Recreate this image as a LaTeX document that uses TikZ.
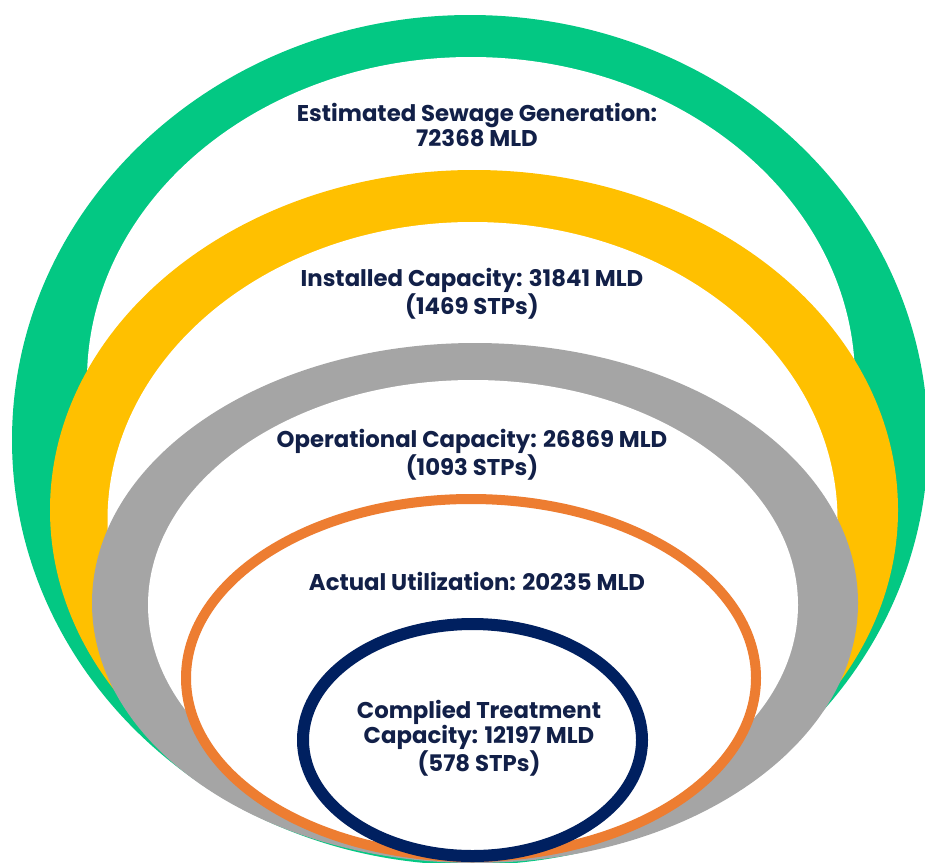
\documentclass[tikz,border=0pt]{standalone}
\usepackage{fontspec}
\setmainfont{Poppins}
\definecolor{sewgreen}{RGB}{3,200,131}
\definecolor{capyellow}{RGB}{255,192,0}
\definecolor{opgray}{RGB}{165,165,165}
\definecolor{useorange}{RGB}{237,125,49}
\definecolor{compnavy}{RGB}{0,32,96}
\definecolor{labelnavy}{RGB}{18,32,72}
\begin{document}
\begin{tikzpicture}[x=1pt,y=-1pt,
  hole/.style={fill=white},
  outline/.style={draw=#1,fill=white},
  caption/.style={font=\fontsize{22.8}{25}\selectfont\bfseries,text=labelnavy,
    align=center,inner sep=0pt}]
\useasboundingbox (0,0) rectangle (925,862);
\clip (0,0) rectangle (925,862);
% sewage generated
\fill[sewgreen] (470,440) ellipse [x radius=458, y radius=425];
\fill[hole] (471,380) ellipse [x radius=384, y radius=323];
% installed capacity
\fill[capyellow] (474,510) ellipse [x radius=424, y radius=340];
\fill[hole] (472.5,520) ellipse [x radius=365, y radius=298];
% operational capacity
\fill[opgray] (475,603) ellipse [x radius=383, y radius=260];
\fill[hole] (473,605) ellipse [x radius=325, y radius=225];
% actual utilization
\path[outline=useorange,line width=10pt] (471,678) ellipse [x radius=285, y radius=179];
% complied treatment
\path[outline=compnavy,line width=12pt] (472.5,740) ellipse [x radius=169.5, y radius=116];
% labels
\node[caption] (gen) at (477,125) {Estimated Sewage Generation:\\72368 MLD};
\node[caption] (inst) at (472,294) {Installed Capacity: 31841 MLD\\(1469 STPs)};
\node[caption] (oper) at (472,455) {Operational Capacity: 26869 MLD\\(1093 STPs)};
\node[caption] (util) at (477,581) {Actual Utilization: 20235 MLD};
\node[caption] (comp) at (479,738) {Complied Treatment\\Capacity: 12197 MLD\\(578 STPs)};
\end{tikzpicture}
\end{document}
